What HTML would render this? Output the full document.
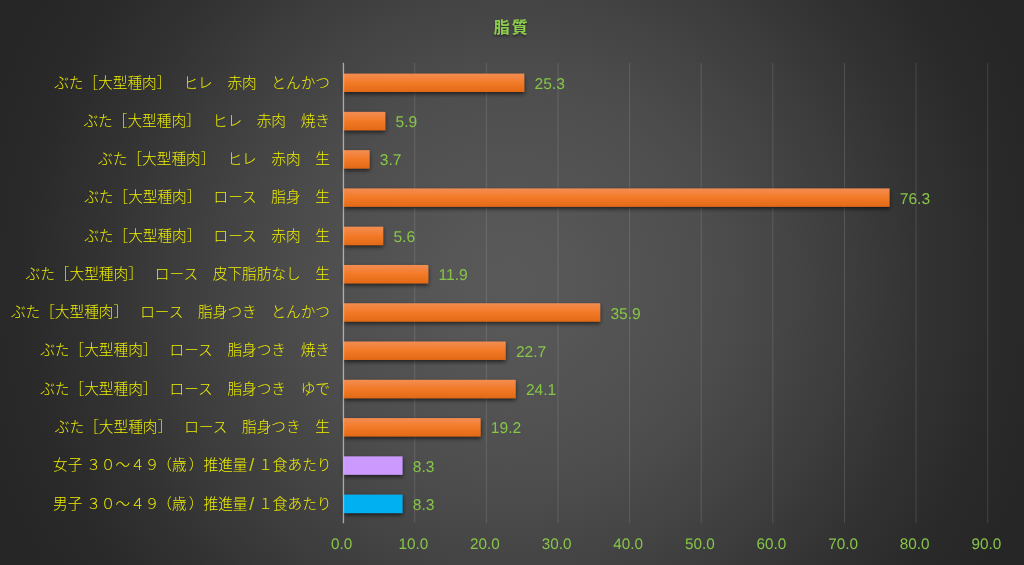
<!DOCTYPE html>
<html lang="ja">
<head>
<meta charset="utf-8">
<title>脂質</title>
<style>
html,body{margin:0;padding:0;}
body{width:1024px;height:565px;overflow:hidden;background:#262626;
 background-image:radial-gradient(circle 585px at 50% 50%,#595959 0.0%,#575757 10.3%,#525252 22.1%,#4e4e4e 33.3%,#464646 45.3%,#3d3d3d 57.4%,#333333 69.6%,#2b2b2b 81.7%,#282828 87.4%,#262626 94.0%,#262626 100.0%);
 font-family:"Liberation Sans","Noto Sans CJK JP",sans-serif;}
svg{position:absolute;left:0;top:0;display:block;}
.val,.ax{text-rendering:geometricPrecision;}
.cat{font-size:14.67px;fill:#eeee00;font-weight:300;text-anchor:end;}
.val{font-size:15.6px;fill:#86c548;text-anchor:start;}
.ax{font-size:15.3px;fill:#86c548;text-anchor:middle;}
.ttl{font-size:16px;font-weight:700;fill:#8ccc4d;text-anchor:middle;letter-spacing:2px;}
</style>
</head>
<body>
<svg width="1024" height="565" viewBox="0 0 1024 565">
<defs>
<linearGradient id="og" x1="0" y1="0" x2="0" y2="1">
<stop offset="0" stop-color="#f38d52"/>
<stop offset="0.5" stop-color="#f27a27"/>
<stop offset="1" stop-color="#e36916"/>
</linearGradient>
<filter id="sh" x="-10%" y="-50%" width="120%" height="220%">
<feGaussianBlur in="SourceAlpha" stdDeviation="2.2"/>
<feOffset dx="0" dy="2" result="b"/>
<feComponentTransfer><feFuncA type="linear" slope="0.63"/></feComponentTransfer>
<feMerge><feMergeNode/><feMergeNode in="SourceGraphic"/></feMerge>
</filter>
<filter id="tsh" x="-20%" y="-20%" width="140%" height="160%">
<feGaussianBlur in="SourceAlpha" stdDeviation="1.2"/>
<feOffset dx="0" dy="1.5"/>
<feComponentTransfer><feFuncA type="linear" slope="0.4"/></feComponentTransfer>
<feMerge><feMergeNode/><feMergeNode in="SourceGraphic"/></feMerge>
</filter>
</defs>

<g stroke="#f2f2f2" stroke-opacity="0.14" stroke-width="1">
<line x1="414.72" y1="63.0" x2="414.72" y2="523.2"/>
<line x1="486.34" y1="63.0" x2="486.34" y2="523.2"/>
<line x1="557.96" y1="63.0" x2="557.96" y2="523.2"/>
<line x1="629.58" y1="63.0" x2="629.58" y2="523.2"/>
<line x1="701.20" y1="63.0" x2="701.20" y2="523.2"/>
<line x1="772.82" y1="63.0" x2="772.82" y2="523.2"/>
<line x1="844.44" y1="63.0" x2="844.44" y2="523.2"/>
<line x1="916.06" y1="63.0" x2="916.06" y2="523.2"/>
<line x1="987.68" y1="63.0" x2="987.68" y2="523.2"/>
</g>
<g filter="url(#sh)">
<rect x="343.70" y="73.60" width="180.60" height="18.40" fill="url(#og)"/>
<rect x="343.70" y="111.88" width="41.66" height="18.40" fill="url(#og)"/>
<rect x="343.70" y="150.15" width="25.90" height="18.40" fill="url(#og)"/>
<rect x="343.70" y="188.43" width="545.86" height="18.40" fill="url(#og)"/>
<rect x="343.70" y="226.71" width="39.51" height="18.40" fill="url(#og)"/>
<rect x="343.70" y="264.99" width="84.63" height="18.40" fill="url(#og)"/>
<rect x="343.70" y="303.26" width="256.52" height="18.40" fill="url(#og)"/>
<rect x="343.70" y="341.54" width="161.98" height="18.40" fill="url(#og)"/>
<rect x="343.70" y="379.82" width="172.00" height="18.40" fill="url(#og)"/>
<rect x="343.70" y="418.09" width="136.91" height="18.40" fill="url(#og)"/>
<rect x="343.70" y="456.37" width="58.84" height="18.40" fill="#cc99ff"/>
<rect x="343.70" y="494.65" width="58.84" height="18.40" fill="#00b0f0"/>
</g>
<line x1="343.45000000000005" y1="62.7" x2="343.45000000000005" y2="523.2" stroke="#f2f2f2" stroke-opacity="0.58" stroke-width="1.33"/>
<text class="cat" x="330" y="87.50">ぶた［大型種肉］<tspan dx="4.7">　</tspan>ヒレ　赤肉　とんかつ</text>
<text class="cat" x="330" y="125.78">ぶた［大型種肉］<tspan dx="4.7">　</tspan>ヒレ　赤肉　焼き</text>
<text class="cat" x="330" y="164.05">ぶた［大型種肉］<tspan dx="4.7">　</tspan>ヒレ　赤肉　生</text>
<text class="cat" x="330" y="202.33">ぶた［大型種肉］<tspan dx="4.7">　</tspan>ロース　脂身　生</text>
<text class="cat" x="330" y="240.61">ぶた［大型種肉］<tspan dx="4.7">　</tspan>ロース　赤肉　生</text>
<text class="cat" x="330" y="278.88">ぶた［大型種肉］<tspan dx="4.7">　</tspan>ロース　皮下脂肪なし　生</text>
<text class="cat" x="330" y="317.16">ぶた［大型種肉］<tspan dx="4.7">　</tspan>ロース　脂身つき　とんかつ</text>
<text class="cat" x="330" y="355.44">ぶた［大型種肉］<tspan dx="4.7">　</tspan>ロース　脂身つき　焼き</text>
<text class="cat" x="330" y="393.72">ぶた［大型種肉］<tspan dx="4.7">　</tspan>ロース　脂身つき　ゆで</text>
<text class="cat" x="330" y="431.99">ぶた［大型種肉］<tspan dx="4.7">　</tspan>ロース　脂身つき　生</text>
<text class="cat" x="331.5" y="470.27">女子<tspan dx="3.8">３</tspan>０～４９<tspan dx="-2.2">（</tspan>歳<tspan dx="2.2">）</tspan>推進量<tspan font-size="18" fill-opacity="0.8" dx="1.8" dy="1.2" letter-spacing="3.9">/</tspan><tspan dy="-1.2">１食あたり</tspan></text>
<text class="cat" x="331.5" y="508.55">男子<tspan dx="3.8">３</tspan>０～４９<tspan dx="-2.2">（</tspan>歳<tspan dx="2.2">）</tspan>推進量<tspan font-size="18" fill-opacity="0.8" dx="1.8" dy="1.2" letter-spacing="3.9">/</tspan><tspan dy="-1.2">１食あたり</tspan></text>
<text class="val" x="534.50" y="88.90">25.3</text>
<text class="val" x="395.56" y="127.18">5.9</text>
<text class="val" x="379.80" y="165.45">3.7</text>
<text class="val" x="899.76" y="203.73">76.3</text>
<text class="val" x="393.41" y="242.01">5.6</text>
<text class="val" x="438.53" y="280.29">11.9</text>
<text class="val" x="610.42" y="318.56">35.9</text>
<text class="val" x="515.88" y="356.84">22.7</text>
<text class="val" x="525.90" y="395.12">24.1</text>
<text class="val" x="490.81" y="433.39">19.2</text>
<text class="val" x="412.74" y="471.67">8.3</text>
<text class="val" x="412.74" y="509.95">8.3</text>
<text class="ax" x="341.70" y="549">0.0</text>
<text class="ax" x="413.32" y="549">10.0</text>
<text class="ax" x="484.94" y="549">20.0</text>
<text class="ax" x="556.56" y="549">30.0</text>
<text class="ax" x="628.18" y="549">40.0</text>
<text class="ax" x="699.80" y="549">50.0</text>
<text class="ax" x="771.42" y="549">60.0</text>
<text class="ax" x="843.04" y="549">70.0</text>
<text class="ax" x="914.66" y="549">80.0</text>
<text class="ax" x="986.28" y="549">90.0</text>
<text class="ttl" x="511.8" y="32.6" filter="url(#tsh)">脂質</text>
</svg>
</body>
</html>
